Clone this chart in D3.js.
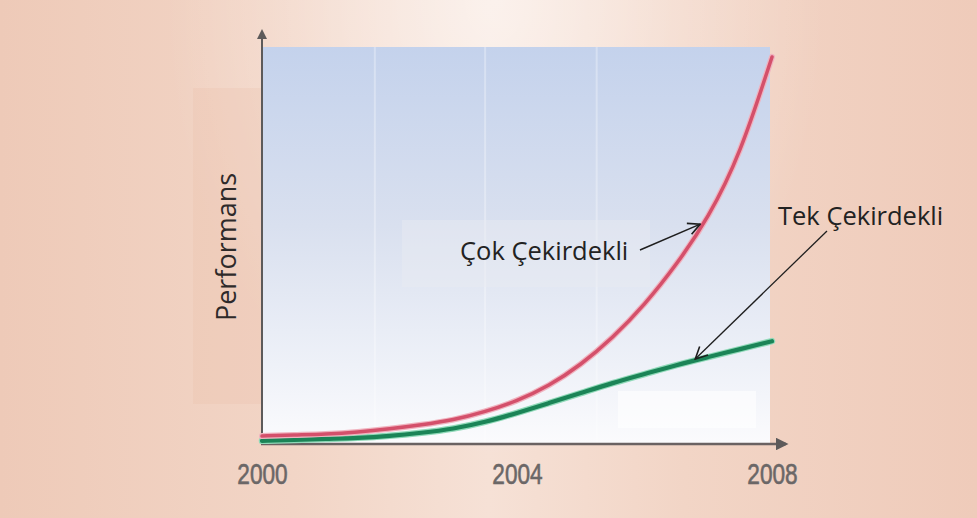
<!DOCTYPE html>
<html>
<head>
<meta charset="utf-8">
<script src="https://cdn.jsdelivr.net/npm/d3@7"></script>
<style>
  html, body { margin: 0; padding: 0; background: #f2d6c7; }
  svg { display: block; }
</style>
</head>
<body>
<svg id="chart" width="977" height="518"></svg>
<script>
// Yıllar (yarım yıllık adımlarla)
const years = [2000, 2000.5, 2001, 2001.5, 2002, 2002.5, 2003, 2003.5, 2004,
               2004.5, 2005, 2005.5, 2006, 2006.5, 2007, 2007.5, 2008];
// Çok çekirdekli işlemci performansı (göreli birim)
const cokCekirdekli = [2.0, 2.3, 2.5, 3.0, 3.8, 4.8, 6.0, 8.1, 10.8,
                       14.6, 19.9, 26.7, 35.0, 45.1, 56.9, 72.8, 97.5];
// Tek çekirdekli işlemci performansı (göreli birim)
const tekCekirdekli = [0.8, 1.0, 1.3, 1.5, 2.0, 2.8, 3.8, 5.5, 7.8,
                       10.3, 12.8, 15.4, 17.6, 19.9, 21.9, 23.9, 25.9];
const tickYears = [2000, 2004, 2008];
const yAxisTitle = "Performans";
const labelCok = "Çok Çekirdekli";
const labelTek = "Tek Çekirdekli";

const svg = d3.select("#chart");
const W = 977, H = 518;
const plot = { left: 262, right: 772, top: 47, bottom: 444 };

const x = d3.scaleLinear().domain([2000, 2008]).range([plot.left, plot.right]);
const y = d3.scaleLinear().domain([0, 100]).range([plot.bottom, plot.top]);

const defs = svg.append("defs");

// page background: warm peach with a lighter band near the top centre
const bg = defs.append("linearGradient").attr("id", "bgH").attr("x1", 0).attr("x2", 1).attr("y1", 0).attr("y2", 0);
[[0, "#eecab8"], [0.3, "#f2d5c6"], [0.5, "#f6e1d6"], [0.7, "#f2d5c6"], [1, "#efcbba"]]
  .forEach(([o, c]) => bg.append("stop").attr("offset", o).attr("stop-color", c));
const glow = defs.append("radialGradient").attr("id", "glow")
  .attr("gradientUnits", "userSpaceOnUse")
  .attr("cx", 495).attr("cy", 0).attr("r", 330)
  .attr("gradientTransform", "translate(495,0) scale(1,1.4) translate(-495,0)");
glow.append("stop").attr("offset", 0).attr("stop-color", "#fff").attr("stop-opacity", 0.55);
glow.append("stop").attr("offset", 1).attr("stop-color", "#fff").attr("stop-opacity", 0);

svg.append("rect").attr("width", W).attr("height", H).attr("fill", "url(#bgH)");
svg.append("rect").attr("width", W).attr("height", H).attr("fill", "url(#glow)");

// panel behind the axis title
svg.append("rect").attr("x", 193).attr("y", 88).attr("width", plot.left - 193).attr("height", 316)
  .attr("fill", "#e7bca6").attr("opacity", 0.22);

// plot area: light blue fading to white
const pg = defs.append("linearGradient").attr("id", "plotBg").attr("x1", 0).attr("x2", 0).attr("y1", 0).attr("y2", 1);
[[0, "#c4d2ec"], [0.45, "#d9e0ef"], [0.8, "#eef1f8"], [1, "#fbfbfd"]]
  .forEach(([o, c]) => pg.append("stop").attr("offset", o).attr("stop-color", c));
svg.append("rect").attr("x", plot.left).attr("y", plot.top)
  .attr("width", plot.right - plot.left - 2).attr("height", plot.bottom - plot.top)
  .attr("fill", "url(#plotBg)");

// faint vertical bands
svg.append("g").selectAll("line").data([2001.77, 2003.5, 2005.25]).join("line")
  .attr("x1", d => x(d)).attr("x2", d => x(d))
  .attr("y1", plot.top).attr("y2", plot.bottom)
  .attr("stroke", "#ffffff").attr("stroke-opacity", 0.3).attr("stroke-width", 2);

// soft boxes
svg.append("rect").attr("x", 402).attr("y", 220).attr("width", 248).attr("height", 67)
  .attr("fill", "#e8ecf2").attr("opacity", 0.45);
svg.append("rect").attr("x", 618).attr("y", 391).attr("width", 138).attr("height", 37)
  .attr("fill", "#ffffff").attr("opacity", 0.6);

// axes with arrow heads
defs.append("marker").attr("id", "axisHead").attr("viewBox", "0 0 10 10")
  .attr("refX", 8).attr("refY", 5).attr("markerWidth", 5).attr("markerHeight", 5)
  .attr("orient", "auto").attr("markerUnits", "strokeWidth")
  .append("path").attr("d", "M0,0 L10,5 L0,10 Z").attr("fill", "#5d5a5a");

svg.append("line").attr("x1", plot.left).attr("x2", plot.left)
  .attr("y1", plot.bottom + 1).attr("y2", 31)
  .attr("stroke", "#5d5a5a").attr("stroke-width", 2).attr("marker-end", "url(#axisHead)");
svg.append("line").attr("x1", plot.left - 1).attr("x2", 786)
  .attr("y1", plot.bottom).attr("y2", plot.bottom)
  .attr("stroke", "#6a6262").attr("stroke-width", 2.5).attr("marker-end", "url(#axisHead)");

// x tick labels, horizontally condensed
const xAxis = d3.axisBottom(x).tickValues(tickYears).tickFormat(d3.format("d")).tickSize(0).tickPadding(0);
const gx = svg.append("g").attr("transform", `translate(0, ${plot.bottom + 19})`).call(xAxis);
gx.select(".domain").remove();
gx.selectAll(".tick text")
  .attr("dy", "0.71em")
  .attr("transform", "scale(0.78,1)")
  .style("font-family", "'Liberation Sans', Arial, sans-serif")
  .style("font-size", "29px")
  .style("fill", "#6b6767")
  .style("stroke", "#6b6767")
  .style("stroke-width", "0.6px");

// y axis title
svg.append("text")
  .attr("transform", `translate(236, 247) rotate(-90)`)
  .attr("text-anchor", "middle")
  .style("font-family", "'Open Sans', 'Noto Sans', sans-serif")
  .style("font-size", "27px")
  .style("fill", "#2e2a2a")
  .text(yAxisTitle);

// series lines
const line = d3.line().x((d, i) => x(years[i])).y(d => y(d)).curve(d3.curveBasis);

svg.append("path").datum(tekCekirdekli).attr("d", line)
  .attr("fill", "none").attr("stroke", "#8fd9b8").attr("stroke-width", 6.5).attr("stroke-linecap", "round");
svg.append("path").datum(tekCekirdekli).attr("d", line)
  .attr("fill", "none").attr("stroke", "#1b8457").attr("stroke-width", 4.2).attr("stroke-linecap", "round");

svg.append("path").datum(cokCekirdekli).attr("d", line)
  .attr("fill", "none").attr("stroke", "#f0b3bf").attr("stroke-width", 6).attr("stroke-linecap", "round");
svg.append("path").datum(cokCekirdekli).attr("d", line)
  .attr("fill", "none").attr("stroke", "#d4506b").attr("stroke-width", 3.5).attr("stroke-linecap", "round");

// annotation arrows
defs.append("marker").attr("id", "openHead").attr("viewBox", "0 0 14 14")
  .attr("refX", 13).attr("refY", 7).attr("markerWidth", 14).attr("markerHeight", 14)
  .attr("orient", "auto").attr("markerUnits", "userSpaceOnUse")
  .append("path").attr("d", "M1,1 L13,7 L1,13").attr("fill", "none")
  .attr("stroke", "#1e1e1e").attr("stroke-width", 1.6);

// arrow end points sit next to the curves at 2007
const cokIdx = years.indexOf(2007);
const tekIdx = years.indexOf(2007);
svg.append("line").attr("x1", 640).attr("y1", 250)
  .attr("x2", x(years[cokIdx]) - 8).attr("y2", y(cokCekirdekli[cokIdx]) + 6)
  .attr("stroke", "#1e1e1e").attr("stroke-width", 1.5).attr("marker-end", "url(#openHead)");
svg.append("line").attr("x1", 827).attr("y1", 231)
  .attr("x2", x(years[tekIdx]) - 13).attr("y2", y(tekCekirdekli[tekIdx]) + 2)
  .attr("stroke", "#1e1e1e").attr("stroke-width", 1.3).attr("marker-end", "url(#openHead)");

// series labels
const labelFont = "'Open Sans', 'Noto Sans', sans-serif";
svg.append("text").attr("x", 460).attr("y", 260)
  .style("font-family", labelFont).style("font-size", "25.5px").style("fill", "#222")
  .text(labelCok);
svg.append("text").attr("x", 778).attr("y", 225)
  .style("font-family", labelFont).style("font-size", "25.5px").style("fill", "#222")
  .text(labelTek);
</script>
</body>
</html>
